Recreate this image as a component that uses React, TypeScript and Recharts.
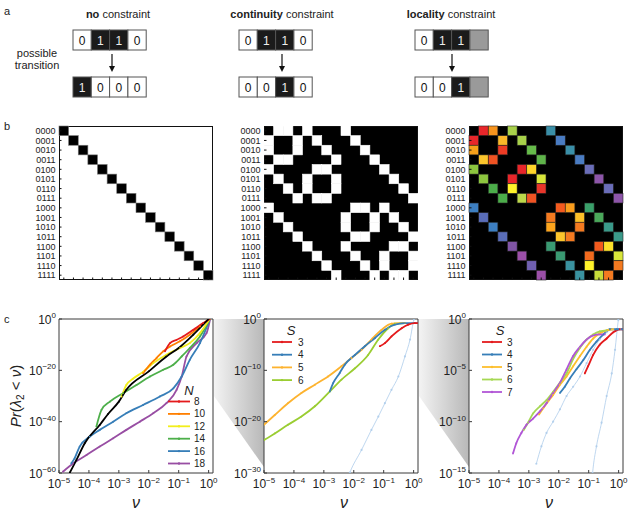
import { LineChart, Line, XAxis, YAxis, ReferenceArea, ScatterChart, Scatter } from 'recharts'

const FONT = "'Liberation Sans', Arial, Helvetica, sans-serif"
const NARROW = "'Liberation Sans Narrow', 'Liberation Sans', Arial, sans-serif"
const INK = '#222'
const FRAME = '#3a3a3a'

// ---- panel a: example transitions ----
const constraintNames = ['no', 'continuity', 'locality']
const statesBefore = ['0110', '0110', '011x']
const statesAfter = ['1000', '0010', '001x']

// ---- panel b: transition matrices ----
const stateIndex = [0, 1, 2, 3, 4, 5, 6, 7, 8, 9, 10, 11, 12, 13, 14, 15]
const stateLabels = [
  '0000', '0001', '0010', '0011', '0100', '0101', '0110', '0111',
  '1000', '1001', '1010', '1011', '1100', '1101', '1110', '1111',
]
const neighbourCols = [
  [1, 2, 4, 8], [0, 3, 5, 9], [0, 3, 6, 10], [1, 2, 7, 11],
  [0, 5, 6, 12], [1, 4, 7, 13], [2, 4, 7, 14], [3, 5, 6, 15],
  [0, 9, 10, 12], [1, 8, 11, 13], [2, 8, 11, 14], [3, 9, 10, 15],
  [4, 8, 13, 14], [5, 9, 12, 15], [6, 10, 12, 15], [7, 11, 13, 14],
]
const localityColours = [
  ['#e8262a', '#f7941d', '#a8d14a', '#3a8fa8'],
  ['#e8262a', '#fbb829', '#a8d14a', '#4a7cc2'],
  ['#f7a11a', '#ee3b24', '#66bb4a', '#3a8fa8'],
  ['#fcc52c', '#f05323', '#5fb44a', '#4a7cc2'],
  ['#8dc63f', '#e8262a', '#ffd42a', '#6a6db8'],
  ['#8dc63f', '#e8262a', '#d8e53a', '#8d55a9'],
  ['#4cad4a', '#fff22a', '#e8352a', '#6a6db8'],
  ['#4cad4a', '#bcd84a', '#f05323', '#8d55a9'],
  ['#3d7fc2', '#f25a1e', '#f99d1c', '#3aa06a'],
  ['#5a6db8', '#f47a20', '#fbbf29', '#4aa85a'],
  ['#3d7fc2', '#fca41c', '#f47a20', '#3a9a8a'],
  ['#5a6db8', '#fcc52c', '#f47a20', '#3a9a8a'],
  ['#8055a5', '#3a9a72', '#f25a1e', '#fde12a'],
  ['#9b4fa8', '#3a9a72', '#f26a1e', '#d8e53a'],
  ['#7060b0', '#3a92a0', '#fff22a', '#f47a20'],
  ['#9b4fa8', '#3a92a0', '#c6dc3a', '#f47a20'],
]

// ---- panel c: Pr(lambda2 < nu), pairs are [log10 nu, log10 Pr] ----
const nuTicks = [1e-5, 1e-4, 1e-3, 1e-2, 1e-1, 1]
const nuDomain = [1e-5, 1.4]

const noneTicks = [1e-60, 1e-40, 1e-20, 1]
const noneBound = [
  [-4.64, -59.9], [-4.42, -55], [-4.14, -48.4], [-3.64, -41.3], [-3.36, -37], [-3.0, -32.2],
  [-2.75, -27.6], [-2.0, -20.4], [-1.41, -14.6], [-1.0, -11.3], [-0.51, -6.1], [0, 0],
]
const noneN8 = [[-1.46, -12.6], [-1.29, -9.4], [-1.07, -8.1], [-0.85, -6.8], [-0.51, -4.2], [-0.18, -1.6], [0.04, 0]]
const noneN10 = [
  [-2.19, -21.1], [-1.96, -17.8], [-1.74, -15.2], [-1.52, -12.6], [-1.29, -10.7],
  [-0.96, -8.7], [-0.63, -6.1], [-0.29, -2.9], [0.02, 0],
]
const noneN12 = [
  [-2.91, -30.2], [-2.75, -25.7], [-2.52, -23.2], [-2.19, -20.6], [-1.85, -17.2],
  [-1.41, -13.9], [-0.96, -11.3], [-0.63, -9.4], [-0.29, -5.5], [0.03, 0],
]
const noneN14 = [
  [-3.75, -41.9], [-3.58, -35.4], [-3.3, -32.2], [-2.86, -28.9], [-2.41, -25.7], [-1.96, -22.4],
  [-1.52, -19.8], [-1.18, -17.8], [-0.9, -14.6], [-0.63, -11.3], [-0.29, -6.8], [0.04, 0],
]
const noneN16 = [
  [-4.59, -56.3], [-4.48, -54.3], [-4.31, -49.7], [-3.97, -45.8], [-3.64, -43.2], [-3.19, -40.0],
  [-2.75, -36.7], [-2.19, -33.5], [-1.63, -30.2], [-1.18, -27.0], [-0.9, -22.4], [-0.63, -15.9],
  [-0.29, -9.4], [0.04, 0],
]
const noneN18 = [
  [-4.87, -59.5], [-4.53, -56.3], [-4.08, -53.0], [-3.64, -49.7], [-3.19, -46.5], [-2.75, -43.2],
  [-2.3, -40.0], [-1.85, -36.7], [-1.41, -32.8], [-1.07, -27.6], [-0.9, -22.4], [-0.74, -14.6],
  [-0.4, -9.4], [-0.07, -5.5], [0.05, 0],
]

const contTicks = [1e-30, 1e-20, 1e-10, 1]
const contFaint = [
  [-2.2, -31], [-2.13, -29.9], [-1.74, -25.5], [-1.41, -21.6], [-1.18, -19.0], [-0.96, -16.4],
  [-0.74, -13.8], [-0.51, -11.2], [-0.29, -7.3], [-0.12, -4.0], [0.01, -0.1], [0.05, 0.6],
]
const contS3 = [[-1.13, -5.3], [-0.96, -4.7], [-0.74, -3.4], [-0.4, -1.8], [-0.18, -1.1], [0.04, -0.8], [0.14, -0.8]]
const contS4 = [
  [-2.8, -14.1], [-2.69, -12.5], [-2.47, -10.5], [-2.3, -8.9], [-1.96, -7.0], [-1.63, -5.3],
  [-1.29, -3.7], [-0.96, -2.1], [-0.63, -1.1], [-0.29, -0.8], [0.14, -0.8],
]
const contS5 = [
  [-5, -20.6], [-4.64, -18.7], [-4.2, -16.4], [-3.75, -14.4], [-3.3, -12.8], [-2.86, -11.2],
  [-2.41, -9.2], [-2.08, -7.6], [-1.74, -6.0], [-1.41, -4.0], [-1.07, -2.1], [-0.74, -0.9], [-0.29, -0.8],
]
const contS6 = [
  [-5, -23.6], [-4.64, -22.3], [-4.2, -20.6], [-3.75, -19.0], [-3.3, -17.0], [-2.8, -14.1],
  [-2.41, -11.8], [-1.96, -9.6], [-1.52, -7.0], [-1.18, -4.0], [-0.85, -1.8], [-0.63, -0.9], [-0.29, -0.8],
]

const locTicks = [1e-15, 1e-10, 1e-5, 1]
const locFaintA = [
  [-2.75, -14.1], [-2.58, -12.4], [-2.41, -11.1], [-2.19, -10.0], [-1.96, -8.8], [-1.74, -7.5],
  [-1.52, -6.6], [-1.29, -5.6], [-1.07, -4.3], [-0.85, -3.0], [-0.63, -2.0], [-0.4, -1.3],
  [-0.18, -1.0], [0.05, -1.0],
]
const locFaintB = [
  [-0.9, -16], [-0.87, -15], [-0.74, -12.4], [-0.57, -10.1], [-0.4, -7.5], [-0.23, -5.3],
  [-0.12, -3.0], [-0.01, -0.1], [0.02, 0.5],
]
const locS3 = [[-1.13, -5.3], [-1.02, -4.6], [-0.85, -3.5], [-0.63, -2.5], [-0.4, -1.9], [-0.18, -1.3], [0.04, -1.0], [0.14, -1.0]]
const locS4 = [
  [-1.96, -7.2], [-1.8, -6.6], [-1.63, -5.8], [-1.41, -4.9], [-1.18, -4.0], [-0.96, -3.0],
  [-0.74, -2.2], [-0.51, -1.5], [-0.29, -1.0], [-0.07, -1.0], [0.14, -1.0],
]
const locS5 = [
  [-2.66, -9.3], [-2.52, -8.7], [-2.35, -8.0], [-2.19, -7.4], [-1.96, -6.4], [-1.74, -5.6],
  [-1.52, -4.6], [-1.29, -3.6], [-1.07, -2.7], [-0.85, -1.9], [-0.63, -1.4], [-0.4, -1.1], [-0.18, -1.0],
]
const locS6 = [
  [-3.17, -10.8], [-3.03, -10.1], [-2.86, -9.2], [-2.63, -8.5], [-2.41, -7.9], [-2.19, -7.1],
  [-1.96, -6.2], [-1.74, -5.3], [-1.52, -3.9], [-1.29, -2.8], [-1.07, -2.0], [-0.85, -1.5],
  [-0.63, -1.2], [-0.4, -1.1],
]
const locS7 = [
  [-3.53, -13.1], [-3.42, -12.1], [-3.25, -11.1], [-3.08, -10.3], [-2.86, -9.7], [-2.63, -9.0],
  [-2.41, -8.2], [-2.19, -7.2], [-1.96, -6.2], [-1.74, -4.9], [-1.52, -3.6], [-1.29, -2.7],
  [-1.07, -2.0], [-0.85, -1.6], [-0.63, -1.5], [-0.46, -1.5],
]

// ---- layout ----
const PLOT = 154
const CELL = PLOT / 16
const COL_X = [59, 264, 469]
const MATRIX_Y = 126
const CURVE_Y = 319
const BOX_X = [73, 239, 415]
const TITLE_X = [118, 282, 451]
const ARROW_X = [112, 282, 452]
const NU_LABEL_X = [136, 344, 549]

const toPoints = (pairs: number[][]) => pairs.map(([a, b]) => ({ nu: 10 ** a, pr: 10 ** b }))

type Series = { name: string; color: string; pairs: number[][]; faint?: boolean }

const noneSeries: Series[] = [
  { name: '18', color: '#984ea3', pairs: noneN18 },
  { name: '16', color: '#377eb8', pairs: noneN16 },
  { name: '14', color: '#4daf4a', pairs: noneN14 },
  { name: '12', color: '#f2ee1c', pairs: noneN12 },
  { name: '10', color: '#ff7f00', pairs: noneN10 },
  { name: '8', color: '#e41a1c', pairs: noneN8 },
  { name: 'bound', color: '#000000', pairs: noneBound },
]
const contSeries: Series[] = [
  { name: 'faint', color: '#a9c9ea', pairs: contFaint, faint: true },
  { name: '6', color: '#9acd32', pairs: contS6 },
  { name: '5', color: '#fdb32f', pairs: contS5 },
  { name: '4', color: '#377eb8', pairs: contS4 },
  { name: '3', color: '#e41a1c', pairs: contS3 },
]
const locSeries: Series[] = [
  { name: 'faintA', color: '#a9c9ea', pairs: locFaintA, faint: true },
  { name: 'faintB', color: '#a9c9ea', pairs: locFaintB, faint: true },
  { name: '3', color: '#e41a1c', pairs: locS3 },
  { name: '4', color: '#377eb8', pairs: locS4 },
  { name: '5', color: '#fdbf2d', pairs: locS5 },
  { name: '6', color: '#a6d854', pairs: locS6 },
  { name: '7', color: '#b156d6', pairs: locS7 },
]

const expText = (v: number) => {
  const e = Math.round(Math.log10(v))
  return e === 0 ? '0' : '\u2212' + Math.abs(e)
}

const LogTickX = (props: any) => {
  const { x, y, payload } = props
  return (
    <g>
      <line x1={x} x2={x} y1={y} y2={y - 3} stroke={FRAME} />
      <text x={x} y={y + 15} textAnchor="middle" fontSize={12} fill={INK} fontFamily={FONT}>
        10<tspan dy={-5.5} fontSize={8}>{expText(payload.value)}</tspan>
      </text>
    </g>
  )
}

const LogTickY = (props: any) => {
  const { x, y, payload } = props
  return (
    <g>
      <line x1={x} x2={x + 3} y1={y} y2={y} stroke={FRAME} />
      <text x={x - 3} y={y + 4.5} textAnchor="end" fontSize={12} fill={INK} fontFamily={FONT}>
        10<tspan dy={-5.5} fontSize={8}>{expText(payload.value)}</tspan>
      </text>
    </g>
  )
}

const MatrixTickX = (props: any) => {
  const { x, y } = props
  return <line x1={x} x2={x} y1={y} y2={y - 2.5} stroke="#111" />
}

const MatrixTickY = (props: any) => {
  const { x, y, payload } = props
  return (
    <g>
      <line x1={x} x2={x + 2.5} y1={y} y2={y} stroke="#111" />
      <text x={x - 3.5} y={y + 3.2} textAnchor="end" fontSize={9} fill={INK} fontFamily={FONT}>
        {stateLabels[payload.value]}
      </text>
    </g>
  )
}

type Cell = { row: number; col: number; fill: string }

const identityCells: Cell[] = stateIndex.map((i) => ({ row: i, col: i, fill: '#000' }))
const hypercubeCells: Cell[] = neighbourCols.flatMap((cols, row) => cols.map((col) => ({ row, col, fill: '#fff' })))
const localityCells: Cell[] = neighbourCols.flatMap((cols, row) =>
  cols.map((col, k) => ({ row, col, fill: localityColours[row][k] })),
)

function Matrix({ left, cells, background, cellStroke }: { left: number; cells: Cell[]; background: string; cellStroke: string }) {
  return (
    <>
      <div
        style={{
          position: 'absolute', left, top: MATRIX_Y, width: PLOT, height: PLOT,
          background, boxSizing: 'border-box', border: '1px solid #111',
        }}
      />
      <div style={{ position: 'absolute', left: left - 40, top: MATRIX_Y - 3 }}>
        <ScatterChart width={40 + PLOT + 3} height={3 + PLOT + 5} margin={{ top: 3, right: 3, bottom: 0, left: 0 }}>
          <XAxis
            type="number" dataKey="col" domain={[-0.5, 15.5]} ticks={stateIndex} interval={0}
            height={5} axisLine={false} tickLine={false} tickSize={0} tickMargin={0} tick={<MatrixTickX />}
          />
          <YAxis
            type="number" dataKey="row" domain={[-0.5, 15.5]} reversed ticks={stateIndex} interval={0}
            width={40} axisLine={false} tickLine={false} tickSize={0} tickMargin={0} tick={<MatrixTickY />}
          />
          <Scatter
            data={cells}
            isAnimationActive={false}
            shape={(p: any) => (
              <rect
                x={p.cx - CELL / 2} y={p.cy - CELL / 2} width={CELL} height={CELL}
                fill={p.payload.fill} stroke={cellStroke} strokeWidth={0.6}
              />
            )}
          />
        </ScatterChart>
      </div>
    </>
  )
}

function CurvePlot({ left, series, prTicks }: { left: number; series: Series[]; prTicks: number[] }) {
  const prDomain = [prTicks[0], 1]
  return (
    <div style={{ position: 'absolute', left: left - 50, top: CURVE_Y - 8 }}>
      <LineChart width={50 + PLOT + 6} height={8 + PLOT + 22} margin={{ top: 8, right: 6, bottom: 0, left: 0 }}>
        <XAxis
          type="number" dataKey="nu" scale="log" domain={nuDomain} allowDataOverflow ticks={nuTicks} interval={0}
          height={22} axisLine={false} tickLine={false} tickSize={0} tickMargin={0} tick={<LogTickX />}
        />
        <YAxis
          type="number" dataKey="pr" scale="log" domain={prDomain} allowDataOverflow ticks={prTicks} interval={0}
          width={50} axisLine={false} tickLine={false} tickSize={0} tickMargin={0} tick={<LogTickY />}
        />
        <ReferenceArea
          x1={nuDomain[0]} x2={nuDomain[1]} y1={prDomain[0]} y2={prDomain[1]}
          fill="none" stroke={FRAME} strokeWidth={1} ifOverflow="visible"
        />
        {series.map((s) => (
          <Line
            key={s.name}
            data={toPoints(s.pairs)}
            dataKey="pr"
            type="monotone"
            stroke={s.color}
            strokeWidth={s.faint ? 1 : 1.8}
            strokeOpacity={s.faint ? 0.75 : 1}
            dot={{ r: s.faint ? 1.1 : 0.9, fill: s.color, stroke: 'none', fillOpacity: s.faint ? 0.8 : 1 }}
            isAnimationActive={false}
          />
        ))}
      </LineChart>
    </div>
  )
}

function Legend({ title, titleX, lineX, labelX, y0, step, items }: {
  title: string; titleX: number; lineX: [number, number]; labelX: number; y0: number; step: number; items: Series[]
}) {
  return (
    <g fontFamily={FONT}>
      <text x={titleX} y={y0 - 7} textAnchor="middle" fontSize={13} fontStyle="italic" fill={INK}>{title}</text>
      {items.map((s, i) => {
        const y = y0 + step * i
        return (
          <g key={s.name}>
            <line x1={lineX[0]} x2={lineX[1]} y1={y} y2={y} stroke={s.color} strokeWidth={1.8} />
            <circle cx={(lineX[0] + lineX[1]) / 2} cy={y} r={1.2} fill={s.color} />
            <text x={labelX} y={y + 3.5} fontSize={10} fill={INK}>{s.name}</text>
          </g>
        )
      })}
    </g>
  )
}

function StateBox({ state, x, y }: { state: string; x: number; y: number }) {
  const w = 18.3
  return (
    <g>
      {state.split('').map((ch, k) => (
        <g key={k}>
          <rect
            x={x + k * w} y={y} width={w} height={20}
            fill={ch === '1' ? '#1b1b1b' : ch === 'x' ? '#9a9a9a' : '#fff'} stroke="#555" strokeWidth={1}
          />
          {ch !== 'x' && (
            <text x={x + k * w + w / 2} y={y + 14.5} textAnchor="middle" fontSize={12} fill={ch === '1' ? '#eee' : '#111'}>
              {ch}
            </text>
          )}
        </g>
      ))}
    </g>
  )
}

function PanelA() {
  return (
    <svg width={631} height={110} style={{ position: 'absolute', left: 0, top: 0 }} fontFamily={NARROW}>
      {constraintNames.map((name, i) => (
        <g key={name}>
          <text x={TITLE_X[i]} y={18} textAnchor="middle" fontSize={11} fill={INK}>
            <tspan fontWeight="bold">{name}</tspan> constraint
          </text>
          <StateBox state={statesBefore[i]} x={BOX_X[i]} y={30} />
          <line x1={ARROW_X[i]} x2={ARROW_X[i]} y1={54} y2={67} stroke="#111" strokeWidth={1.2} />
          <polygon points={`${ARROW_X[i] - 3},66 ${ARROW_X[i] + 3},66 ${ARROW_X[i]},72`} fill="#111" />
          <StateBox state={statesAfter[i]} x={BOX_X[i]} y={77} />
        </g>
      ))}
      <text x={37} y={57} textAnchor="middle" fontSize={11} fill={INK}>possible</text>
      <text x={37} y={69} textAnchor="middle" fontSize={11} fill={INK}>transition</text>
    </svg>
  )
}

function Wedges() {
  const shapes = [COL_X[0] + PLOT + 1, COL_X[1] + PLOT + 1]
  return (
    <svg width={631} height={513} style={{ position: 'absolute', left: 0, top: 0 }}>
      <defs>
        <linearGradient id="wedge" x1="0" x2="1" y1="0" y2="0">
          <stop offset="0%" stopColor="#f3f3f3" />
          <stop offset="100%" stopColor="#b8b8b8" />
        </linearGradient>
      </defs>
      {shapes.map((x0) => (
        <polygon
          key={x0}
          points={`${x0},${CURVE_Y} ${x0 + 50},${CURVE_Y} ${x0 + 50},${CURVE_Y + 148} ${x0},${CURVE_Y + 77}`}
          fill="url(#wedge)"
        />
      ))}
    </svg>
  )
}

function Labels() {
  return (
    <svg width={631} height={513} style={{ position: 'absolute', left: 0, top: 0, pointerEvents: 'none' }} fontFamily={FONT}>
      <text x={4} y={15} fontSize={11} fill={INK}>a</text>
      <text x={4} y={130} fontSize={11} fill={INK}>b</text>
      <text x={4} y={323} fontSize={11} fill={INK}>c</text>
      <text transform="translate(21,396) rotate(-90)" textAnchor="middle" fontSize={15} fill={INK}>
        <tspan fontStyle="italic">Pr</tspan>(<tspan fontStyle="italic">λ</tspan>
        <tspan fontSize={10} dy={3}>2</tspan>
        <tspan dy={-3}> &lt; </tspan>
        <tspan fontStyle="italic">ν</tspan>)
      </text>
      {NU_LABEL_X.map((x) => (
        <text key={x} x={x} y={508} textAnchor="middle" fontSize={16} fontStyle="italic" fill={INK}>ν</text>
      ))}
      <Legend
        title="N" titleX={189} lineX={[168, 190]} labelX={194} y0={401.5} step={12.4}
        items={[...noneSeries].filter((s) => s.name !== 'bound').reverse()}
      />
      <Legend
        title="S" titleX={291} lineX={[272, 292]} labelX={298} y0={342} step={12.7}
        items={[...contSeries].filter((s) => !s.faint).reverse()}
      />
      <Legend
        title="S" titleX={500} lineX={[482, 502]} labelX={507} y0={342} step={12.5}
        items={locSeries.filter((s) => !s.faint)}
      />
    </svg>
  )
}

export default function App() {
  return (
    <div style={{ position: 'absolute', left: 0, top: 0, width: 631, height: 513, background: '#fff', overflow: 'hidden', fontFamily: FONT }}>
      <Wedges />
      <PanelA />
      <Matrix left={COL_X[0]} cells={identityCells} background="#fff" cellStroke="#777" />
      <Matrix left={COL_X[1]} cells={hypercubeCells} background="#000" cellStroke="#fff" />
      <Matrix left={COL_X[2]} cells={localityCells} background="#000" cellStroke="#222" />
      <CurvePlot left={COL_X[0]} series={noneSeries} prTicks={noneTicks} />
      <CurvePlot left={COL_X[1]} series={contSeries} prTicks={contTicks} />
      <CurvePlot left={COL_X[2]} series={locSeries} prTicks={locTicks} />
      <Labels />
    </div>
  )
}
